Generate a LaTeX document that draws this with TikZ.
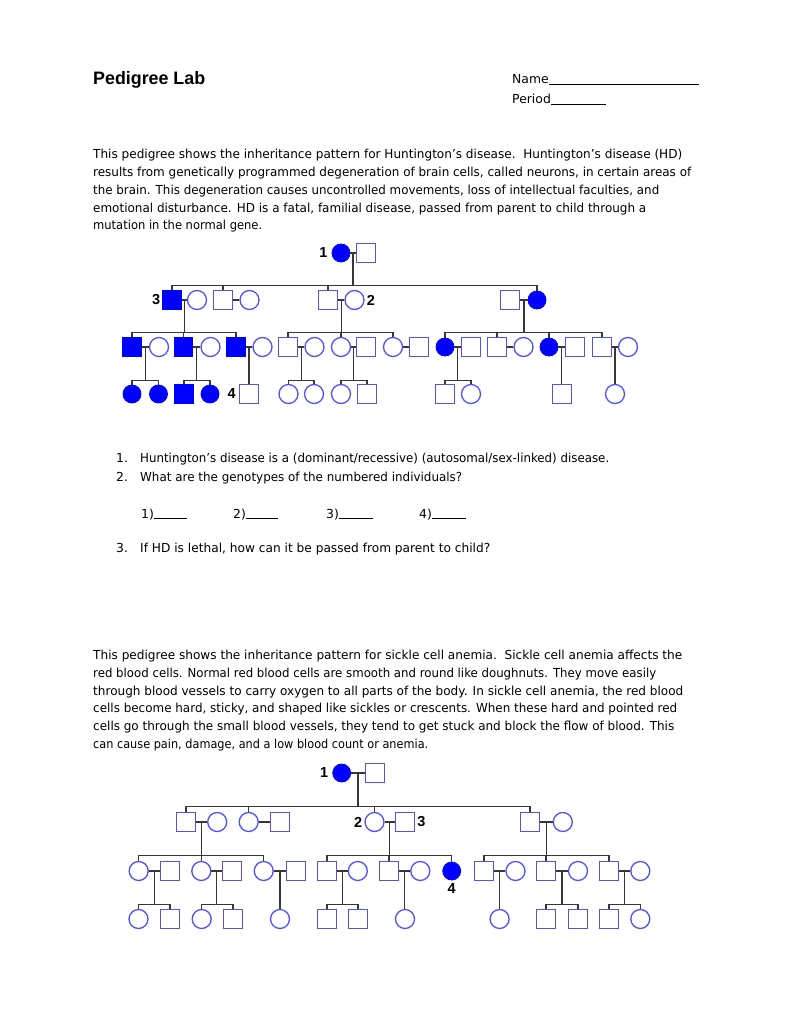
\documentclass[tikz,border=0pt]{standalone}
\usepackage{fontspec}
\setmainfont{DejaVu Sans}
\newfontfamily\titlefont{Liberation Sans}
\newfontfamily\labfont{Liberation Sans}
\usepackage{graphicx}
\usetikzlibrary{calc,positioning}
\definecolor{symblue}{RGB}{80,80,255}
\definecolor{affblue}{RGB}{0,0,255}
\definecolor{linegray}{RGB}{55,55,55}
\tikzset{
  ind/.style={draw=symblue, line width=1.3pt, inner sep=0pt, minimum size=19pt},
  sq/.style={ind, rectangle},
  ci/.style={ind, circle},
  sqf/.style={rectangle, fill=affblue, draw=affblue, line width=0.8pt, inner sep=0pt, minimum size=18.5pt},
  cif/.style={circle, fill=affblue, draw=affblue, line width=0.8pt, inner sep=0pt, minimum size=18pt},
  ln/.style={draw=linegray, line width=1.3pt},
  lab/.style={font=\labfont\fontsize{14.5}{14.5}\selectfont\bfseries, inner sep=0pt},
  txt/.style={anchor=base west, inner sep=0pt, font=\fontsize{12.4}{15}\selectfont},
  ttl/.style={anchor=base west, inner sep=0pt, font=\titlefont\fontsize{18}{20}\selectfont\bfseries},
}
\newcommand\couple[3]{\draw[ln] (#1) -- (#2);
  \coordinate (#3) at ($(#1.east)!0.5!(#2.west)$);}
\newcommand\sib[4]{\draw[ln] (#1) -- (#1 |- 0,#2);
  \draw[ln] (#3.north) -- (#3.north |- 0,#2) -- (#4.north |- 0,#2) -- (#4.north);}
\newcommand\drop[2]{\draw[ln] (#1.north) -- (#1.north |- 0,#2);}
\newcommand\onechild[2]{\draw[ln] (#1) -- (#1 |- #2.north);}
\newcommand\tline[5]{\node[txt] (#1) at (#2,#3) {\resizebox{#4pt}{\height}{#5}};}
\begin{document}
\begin{tikzpicture}[x=1pt,y=-1pt]
\useasboundingbox (0,0) rectangle (791,1024);
\fill[white] (0,0) rectangle (791,1024);

% ---------- header ----------
\node[ttl] (title) at (93,85) {\resizebox{112pt}{\height}{Pedigree Lab}};
\node[txt] (name) at (512,84) {\makebox[187pt][l]{Name\hrulefill}};
\node[txt] (period) at (512,104) {\makebox[94pt][l]{Period\hrulefill}};

% ---------- paragraph 1 ----------
\tline{pa1}{93}{159}{589}{This pedigree shows the inheritance pattern for Huntington’s disease.\ \ Huntington's disease (HD)}
\tline{pa2}{93}{176.7}{598}{results from genetically programmed degeneration of brain cells, called neurons, in certain areas of}
\tline{pa3}{93}{194.4}{566}{the brain. This degeneration causes uncontrolled movements, loss of intellectual faculties, and}
\tline{pa4}{93}{212.1}{553}{emotional disturbance. HD is a fatal, familial disease, passed from parent to child through a}
\tline{pa5}{93}{229.8}{169}{mutation in the normal gene.}

% ---------- pedigree 1 ----------
\node[cif] (A1) at (341,253) {};
\node[sq]  (A2) at (366,253) {};
\node[lab, left=4pt of A1] (lA1) {1};

\node[sqf] (B1) at (172,300) {};
\node[ci]  (B2) at (197,300) {};
\node[sq]  (B3) at (223,300) {};
\node[ci]  (B4) at (249.5,300) {};
\node[sq]  (B5) at (328,300) {};
\node[ci]  (B6) at (354.5,300) {};
\node[sq]  (B7) at (510,300) {};
\node[cif] (B8) at (537,300) {};
\node[lab, left=2pt of B1] (lB1) {3};
\node[lab, right=2pt of B6] (lB6) {2};

\node[sqf] (C1) at (132,347) {};
\node[ci]  (C2) at (159,347) {};
\node[sqf] (C3) at (183.5,347) {};
\node[ci]  (C4) at (210.5,347) {};
\node[sqf] (C5) at (236,347) {};
\node[ci]  (C6) at (262.5,347) {};
\node[sq]  (C7) at (288,347) {};
\node[ci]  (C8) at (314.5,347) {};
\node[ci]  (C9) at (341,347) {};
\node[sq]  (C10) at (366,347) {};
\node[ci]  (C11) at (393,347) {};
\node[sq]  (C12) at (419,347) {};
\node[cif] (C13) at (445,347) {};
\node[sq]  (C14) at (471,347) {};
\node[sq]  (C15) at (497,347) {};
\node[ci]  (C16) at (523.5,347) {};
\node[cif] (C17) at (549,347) {};
\node[sq]  (C18) at (575,347) {};
\node[sq]  (C19) at (602,347) {};
\node[ci]  (C20) at (628,347) {};

\node[cif] (D1) at (132,394) {};
\node[cif] (D2) at (158.5,394) {};
\node[sqf] (D3) at (184,394) {};
\node[cif] (D4) at (210,394) {};
\node[sq]  (D5) at (249,394) {};
\node[lab, left=3pt of D5] (lD5) {4};
\node[ci]  (D6) at (288.5,394) {};
\node[ci]  (D7) at (314,394) {};
\node[ci]  (D8) at (341,394) {};
\node[sq]  (D9) at (367,394) {};
\node[sq]  (D10) at (445,394) {};
\node[ci]  (D11) at (471,394) {};
\node[sq]  (D12) at (562,394) {};
\node[ci]  (D13) at (615,394) {};

\couple{A1}{A2}{mA} \sib{mA}{285.5}{B1}{B8} \drop{B3}{285.5} \drop{B5}{285.5}
\couple{B1}{B2}{mB12} \sib{mB12}{332.5}{C1}{C5} \drop{C3}{332.5}
\couple{B3}{B4}{mB34}
\couple{B5}{B6}{mB56} \sib{mB56}{332.5}{C7}{C11} \drop{C9}{332.5}
\couple{B7}{B8}{mB78} \sib{mB78}{332.5}{C13}{C19} \drop{C15}{332.5} \drop{C17}{332.5}
\couple{C1}{C2}{mC12} \sib{mC12}{380.5}{D1}{D2}
\couple{C3}{C4}{mC34} \sib{mC34}{380.5}{D3}{D4}
\couple{C5}{C6}{mC56} \onechild{mC56}{D5}
\couple{C7}{C8}{mC78} \sib{mC78}{380.5}{D6}{D7}
\couple{C9}{C10}{mC910} \sib{mC910}{380.5}{D8}{D9}
\couple{C11}{C12}{mC1112}
\couple{C13}{C14}{mC1314} \sib{mC1314}{380.5}{D10}{D11}
\couple{C15}{C16}{mC1516}
\couple{C17}{C18}{mC1718} \onechild{mC1718}{D12}
\couple{C19}{C20}{mC1920} \onechild{mC1920}{D13}

% ---------- questions ----------
\node[txt] (q1n) at (116,462) {1.};
\tline{q1}{140}{462}{469}{Huntington’s disease is a (dominant/recessive) (autosomal/sex-linked) disease.}
\node[txt] (q2n) at (116,481) {2.};
\tline{q2}{140}{481}{322}{What are the genotypes of the numbered individuals?}
\node[txt] (g1) at (141,518) {\makebox[46pt][l]{1)\hrulefill}};
\node[txt] (g2) at (233,518) {\makebox[45pt][l]{2)\hrulefill}};
\node[txt] (g3) at (326,518) {\makebox[47pt][l]{3)\hrulefill}};
\node[txt] (g4) at (419,518) {\makebox[47pt][l]{4)\hrulefill}};
\node[txt] (q3n) at (116,552) {3.};
\tline{q3}{140}{552}{350}{If HD is lethal, how can it be passed from parent to child?}

% ---------- paragraph 2 ----------
\tline{pb1}{93}{659.7}{589}{This pedigree shows the inheritance pattern for sickle cell anemia.\ \ Sickle cell anemia affects the}
\tline{pb2}{93}{677.4}{563}{red blood cells. Normal red blood cells are smooth and round like doughnuts. They move easily}
\tline{pb3}{93}{695.1}{590}{through blood vessels to carry oxygen to all parts of the body. In sickle cell anemia, the red blood}
\tline{pb4}{93}{712.8}{584}{cells become hard, sticky, and shaped like sickles or crescents. When these hard and pointed red}
\tline{pb5}{93}{730.5}{581}{cells go through the small blood vessels, they tend to get stuck and block the flow of blood. This}
\tline{pb6}{93}{748.2}{335}{can cause pain, damage, and a low blood count or anemia.}

% ---------- pedigree 2 ----------
\node[cif] (E1) at (341.7,773) {};
\node[sq]  (E2) at (375,773) {};
\node[lab, left=4pt of E1] (lE1) {1};

\node[sq]  (F1) at (186,822) {};
\node[ci]  (F2) at (217.2,822) {};
\node[ci]  (F3) at (248.7,822) {};
\node[sq]  (F4) at (280,822) {};
\node[ci]  (F5) at (374.5,822) {};
\node[sq]  (F6) at (405,822) {};
\node[sq]  (F7) at (530,822) {};
\node[ci]  (F8) at (562.8,822) {};
\node[lab, left=2pt of F5] (lF5) {2};
\node[lab, right=2pt of F6] (lF6) {3};

\node[ci]  (G1) at (138.7,871) {};
\node[sq]  (G2) at (170,871) {};
\node[ci]  (G3) at (201.3,871) {};
\node[sq]  (G4) at (232,871) {};
\node[ci]  (G5) at (263.7,871) {};
\node[sq]  (G6) at (296,871) {};
\node[sq]  (G7) at (327,871) {};
\node[ci]  (G8) at (357.8,871) {};
\node[sq]  (G9) at (389,871) {};
\node[ci]  (G10) at (420.3,871) {};
\node[cif] (G11) at (451.7,871) {};
\node[lab, below=3pt of G11] (lG11) {4};
\node[sq]  (G12) at (484,871) {};
\node[ci]  (G13) at (515.5,871) {};
\node[sq]  (G14) at (546,871) {};
\node[ci]  (G15) at (578,871) {};
\node[sq]  (G16) at (609,871) {};
\node[ci]  (G17) at (640.3,871) {};

\node[ci]  (H1) at (138.5,919) {};
\node[sq]  (H2) at (170,919) {};
\node[ci]  (H3) at (201.7,919) {};
\node[sq]  (H4) at (233,919) {};
\node[ci]  (H5) at (280,919) {};
\node[sq]  (H6) at (327,919) {};
\node[sq]  (H7) at (358,919) {};
\node[ci]  (H8) at (405,919) {};
\node[ci]  (H9) at (499.6,919) {};
\node[sq]  (H10) at (546,919) {};
\node[sq]  (H11) at (578,919) {};
\node[sq]  (H12) at (609,919) {};
\node[ci]  (H13) at (640.3,919) {};

\couple{E1}{E2}{mE} \sib{mE}{806.5}{F1}{F7} \drop{F3}{806.5} \drop{F5}{806.5}
\couple{F1}{F2}{mF12} \sib{mF12}{855.5}{G1}{G5} \drop{G3}{855.5}
\couple{F3}{F4}{mF34}
\couple{F5}{F6}{mF56} \sib{mF56}{855.5}{G7}{G11} \drop{G9}{855.5}
\couple{F7}{F8}{mF78} \sib{mF78}{855.5}{G12}{G16} \drop{G14}{855.5}
\couple{G1}{G2}{mG12} \sib{mG12}{904.5}{H1}{H2}
\couple{G3}{G4}{mG34} \sib{mG34}{904.5}{H3}{H4}
\couple{G5}{G6}{mG56} \onechild{mG56}{H5}
\couple{G7}{G8}{mG78} \sib{mG78}{904.5}{H6}{H7}
\couple{G9}{G10}{mG910} \onechild{mG910}{H8}
\couple{G12}{G13}{mG1213} \onechild{mG1213}{H9}
\couple{G14}{G15}{mG1415} \sib{mG1415}{904.5}{H10}{H11}
\couple{G16}{G17}{mG1617} \sib{mG1617}{904.5}{H12}{H13}
\end{tikzpicture}
\end{document}
